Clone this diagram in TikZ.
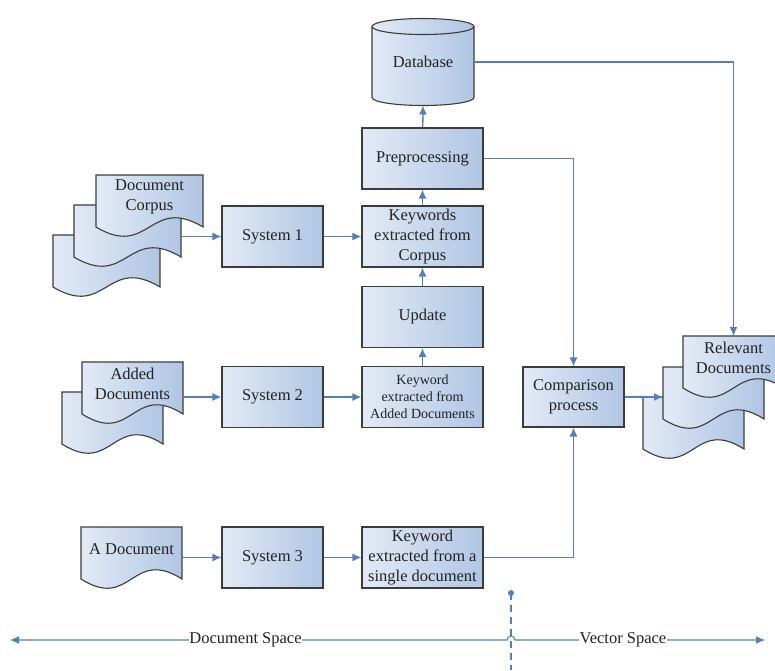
\documentclass[tikz,border=0pt]{standalone}
\usepackage{fontspec}
\setmainfont{Liberation Serif}
\usetikzlibrary{arrows.meta,calc}

\pgfdeclarelayer{background}
\pgfsetlayers{background,main}

\definecolor{flowblue}{HTML}{4F81BD}
\definecolor{boxlight}{HTML}{E2EAF5}
\definecolor{boxdark}{HTML}{B0C6E4}
\definecolor{boxline}{HTML}{3C3C3C}
\definecolor{inkgray}{HTML}{222222}

\tikzset{
  shapefill/.style={draw=boxline, line width=1.1pt, left color=boxlight, right color=boxdark},
  procbox/.style={shapefill, rectangle, minimum width=101pt, minimum height=61pt, inner sep=2pt,
    align=center, text=inkgray, font=\fontsize{16.5}{20}\selectfont},
  wide/.style={minimum width=121pt},
  smalltext/.style={font=\fontsize{14}{17}\selectfont},
  docbox/.style={rectangle, anchor=north west, outer sep=0pt, inner sep=1pt, minimum width=101pt,
    minimum height=44pt, align=center, text=inkgray, font=\fontsize{16.5}{20}\selectfont},
  flow/.style={draw=flowblue, line width=1.3pt, -{Latex[length=9pt,width=8pt]}},
  axis/.style={draw=flowblue, line width=1.1pt, {Latex[length=9pt,width=8pt]}-{Latex[length=9pt,width=8pt]}},
  divider/.style={draw=flowblue, line width=1.1pt, dash pattern=on 7pt off 5pt},
  axlabel/.style={fill=white, inner sep=0.5pt, text=inkgray, font=\fontsize{16.5}{20}\selectfont}
}

% paper sheet with a wavy lower edge, drawn behind the node
\newcommand{\docshape}[1]{%
  \begin{pgfonlayer}{background}
    \path[shapefill] (#1.north west) -- (#1.north east) -- ($(#1.south east)+(0,8)$)
      .. controls ($(#1.south)+(0,-24)$) and ($(#1.south)+(0,40)$) .. ($(#1.south west)+(0,8)$) -- cycle;
  \end{pgfonlayer}}

\begin{document}
\begin{tikzpicture}[x=1pt,y=-1pt]
  \useasboundingbox (0,0) rectangle (775,670);

  % database
  \node[rectangle, outer sep=0pt, minimum width=102pt, minimum height=71pt, text=inkgray,
    font=\fontsize{16.5}{20}\selectfont] (db) at (423,62) {Database};
  \begin{pgfonlayer}{background}
    \path[shapefill] (db.north west) arc[start angle=180, end angle=0, x radius=51pt, y radius=8pt]
      -- (db.south east) arc[start angle=0, end angle=-180, x radius=51pt, y radius=8pt] -- cycle;
    \draw[draw=boxline, line width=1.1pt] (db.north west)
      arc[start angle=180, end angle=360, x radius=51pt, y radius=8pt];
  \end{pgfonlayer}
  \coordinate (dbbase) at ($(db.south)+(0,8)$);

  % document stacks
  \foreach \n/\x/\y in {corpusA/53/235, corpusB/74/205} {
    \node[docbox, minimum width=107pt] (\n) at (\x,\y) {};
    \docshape{\n}
  }
  \node[docbox, minimum width=107pt] (corpusC) at (96,175) {Document\\Corpus};
  \docshape{corpusC}

  \node[docbox] (addedA) at (62,392) {};
  \docshape{addedA}
  \node[docbox] (addedB) at (82,362) {Added\\Documents};
  \docshape{addedB}

  \node[docbox] (single) at (81,527) {A Document};
  \docshape{single}

  \foreach \n/\x/\y in {relA/643/397, relB/663/367} {
    \node[docbox] (\n) at (\x,\y) {};
    \docshape{\n}
  }
  \node[docbox] (relC) at (683,336) {Relevant\\Documents};
  \docshape{relC}

  % process boxes
  \node[procbox] (sys1) at (272.5,236.5) {System 1};
  \node[procbox] (sys2) at (272.5,397) {System 2};
  \node[procbox] (sys3) at (272.5,557.5) {System 3};
  \node[procbox, wide] (prep) at (422.5,158.5) {Preprocessing};
  \node[procbox, wide] (kwcorpus) at (422.5,236.5) {Keywords\\extracted from\\Corpus};
  \node[procbox, wide] (update) at (422.5,317) {Update};
  \node[procbox, wide, smalltext] (kwadded) at (422.5,397) {Keyword\\extracted from\\Added Documents};
  \node[procbox, wide] (kwsingle) at (422.5,557.5) {Keyword\\extracted from a\\single document};
  \node[procbox, minimum height=60pt] (compare) at (573.5,397) {Comparison\\process};

  % connectors
  \draw[flow] (corpusB.east |- sys1.west) -- (sys1.west);
  \draw[flow] (sys1) -- (kwcorpus);
  \draw[flow] (kwcorpus) -- (prep);
  \draw[flow] (prep) -- (dbbase);
  \draw[flow] (update) -- (kwcorpus);
  \draw[flow] (kwadded) -- (update);
  \draw[flow] (addedB.east |- sys2.west) -- (sys2.west);
  \draw[flow] (sys2) -- (kwadded);
  \draw[flow] (single.east |- sys3.west) -- (sys3.west);
  \draw[flow] (sys3) -- (kwsingle);
  \draw[flow] (kwsingle) -| (compare);
  \draw[flow] (prep) -| (compare);
  \draw[flow] (db) -| (relC.north);
  \draw[flow] (compare) -- (relB.west |- compare.east);

  % space axis
  \coordinate (axleft) at (10,640);
  \coordinate (axright) at (765,640);
  \coordinate (divtop) at (511,593);
  \coordinate (divbot) at (511,670);
  \draw[divider] (divtop) -- (divbot);
  \fill[flowblue] (divtop) circle[radius=3pt];
  \draw[axis] (axleft) -- ($(divtop |- axleft)+(-4,0)$)
    arc[start angle=180, end angle=0, radius=4pt] -- (axright);
  \node[axlabel] (docspace) at (245.5,640) {Document Space};
  \node[axlabel] (vecspace) at (623,640) {Vector Space};
\end{tikzpicture}
\end{document}
